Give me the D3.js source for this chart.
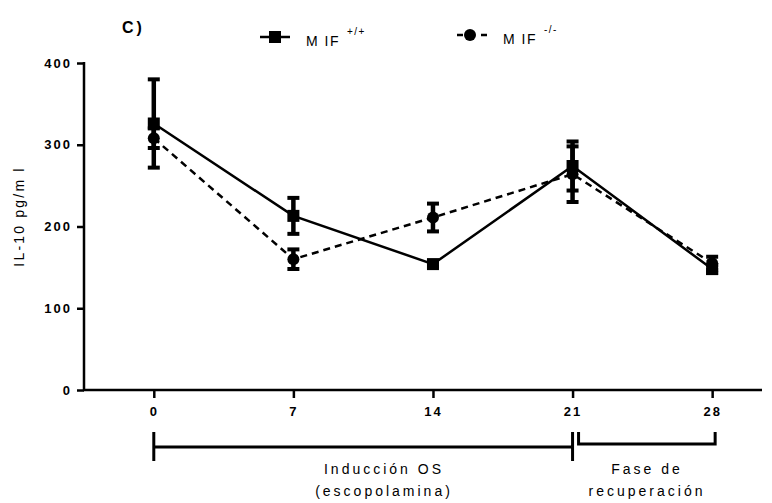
<!DOCTYPE html>
<head>
<meta charset="utf-8">
<style>
  body { margin: 0; background: #fff; }
  text { font-family: "Liberation Sans", Arial, sans-serif; fill: #000; }
</style>
</head>
<body>
  <svg width="772" height="503"></svg>

  <script src="https://d3js.org/d3.v7.min.js"></script>
  <script>
  // days of the protocol
  const days = [0, 7, 14, 21, 28];
  // MIF +/+ (square, solid)
  const wtMean = [326, 213, 154, 274, 148];
  const wtErr = [54, 22, 3, 30, 5];
  // MIF -/- (circle, dashed)
  const koMean = [308, 160, 211, 264, 155];
  const koErr = [12, 12, 17, 34, 8];
  const yTicks = [0, 100, 200, 300, 400];
  const phaseStart = [0, 21];
  const phaseEnd = [21, 28];
  const phaseLabels = [['Inducción OS', '(escopolamina)'], ['Fase de', 'recuperación']];

  const svg = d3.select('svg');
  const x = d3.scaleLinear().domain([-3.5, 30.5]).range([84, 762]);
  const y = d3.scaleLinear().domain([0, 400]).range([390, 63]);

  // axes
  const yAxis = svg.append('g')
    .attr('transform', 'translate(84,0)')
    .call(d3.axisLeft(y).tickValues(yTicks).tickSize(7).tickPadding(5));
  const xAxis = svg.append('g')
    .attr('transform', 'translate(0,390)')
    .call(d3.axisBottom(x).tickValues(days).tickSize(8).tickPadding(9));
  [yAxis, xAxis].forEach(g => {
    g.select('.domain').remove();
    g.selectAll('.tick line').attr('stroke-width', 2.5);
    g.selectAll('text')
      .style('font-size', '13px').style('font-weight', 'bold')
      .style('letter-spacing', '2px').attr('fill', '#000');
  });
  svg.append('line').attr('x1', 84).attr('x2', 84).attr('y1', y(400) - 1).attr('y2', y(0) + 1)
    .attr('stroke', '#000').attr('stroke-width', 2.5);
  svg.append('line').attr('x1', 83).attr('x2', x(30.5)).attr('y1', y(0)).attr('y2', y(0))
    .attr('stroke', '#000').attr('stroke-width', 2.5);

  // y label
  svg.append('text')
    .attr('transform', `translate(24,${(y(0) + y(400)) / 2 - 10}) rotate(-90)`)
    .attr('text-anchor', 'middle')
    .style('font-size', '14px').style('letter-spacing', '2.2px')
    .text('IL-10 pg/m l');

  svg.append('text').attr('x', 122).attr('y', 33)
    .style('font-size', '16px').style('font-weight', 'bold').style('letter-spacing', '3px')
    .text('C)');

  // series
  const series = [
    { mean: wtMean, err: wtErr, dash: null, shape: 'square' },
    { mean: koMean, err: koErr, dash: '7,5', shape: 'circle' }
  ];
  const line = d3.line().x((d, i) => x(days[i])).y(d => y(d));

  series.slice().reverse().forEach(s => {
    svg.append('path').datum(s.mean)
      .attr('d', line).attr('fill', 'none').attr('stroke', '#000')
      .attr('stroke-width', 2.5).attr('stroke-dasharray', s.dash);
  });

  series.forEach(s => {
    const g = svg.append('g');
    days.forEach((d, i) => {
      const cx = x(d), top = y(s.mean[i] + s.err[i]), bot = y(s.mean[i] - s.err[i]);
      g.append('line').attr('x1', cx).attr('x2', cx).attr('y1', top).attr('y2', bot)
        .attr('stroke', '#000').attr('stroke-width', 4.5);
      [top, bot].forEach(v => g.append('line')
        .attr('x1', cx - 6).attr('x2', cx + 6).attr('y1', v).attr('y2', v)
        .attr('stroke', '#000').attr('stroke-width', 4));
      if (s.shape === 'square') {
        g.append('rect').attr('x', cx - 6).attr('y', y(s.mean[i]) - 6)
          .attr('width', 12).attr('height', 12).attr('fill', '#000');
      } else {
        g.append('circle').attr('cx', cx).attr('cy', y(s.mean[i])).attr('r', 6).attr('fill', '#000');
      }
    });
  });

  // legend
  const legend = svg.append('g');
  legend.append('line').attr('x1', 260).attr('x2', 290).attr('y1', 37).attr('y2', 37)
    .attr('stroke', '#000').attr('stroke-width', 2.5);
  legend.append('rect').attr('x', 269).attr('y', 31).attr('width', 12).attr('height', 12);
  legend.append('line').attr('x1', 457).attr('x2', 487).attr('y1', 35).attr('y2', 35)
    .attr('stroke', '#000').attr('stroke-width', 2.5).attr('stroke-dasharray', '6,6');
  legend.append('circle').attr('cx', 470).attr('cy', 35).attr('r', 6);
  const legText = (lx, ly, sup) => {
    const t = legend.append('text').attr('x', lx).attr('y', ly)
      .style('font-size', '14px').style('letter-spacing', '1.5px');
    t.append('tspan').text('M IF');
    t.append('tspan').attr('dx', 7).attr('dy', -11).style('font-size', '10px').text(sup);
  };
  legText(306, 46, '+/+');
  legText(503, 44, '-/-');

  // phase brackets
  const b = svg.append('g').attr('stroke', '#000').attr('stroke-width', 3).attr('fill', 'none');
  b.append('path').attr('d',
    `M${x(phaseStart[0])},432 V461 M${x(phaseStart[0])},447 H${x(phaseEnd[0])} M${x(phaseEnd[0])},432 V461`);
  b.append('path').attr('d',
    `M${x(phaseStart[1]) + 6},432 V444 H${x(phaseEnd[1]) + 3} V432`);
  const labelX = [384, 647];
  phaseLabels.forEach((lines, i) => {
    lines.forEach((txt, j) => svg.append('text')
      .attr('x', labelX[i]).attr('y', 474 + j * 22)
      .attr('text-anchor', 'middle')
      .style('font-size', '14px').style('letter-spacing', '3px')
      .text(txt));
  });
  </script>
</body>
</html>
